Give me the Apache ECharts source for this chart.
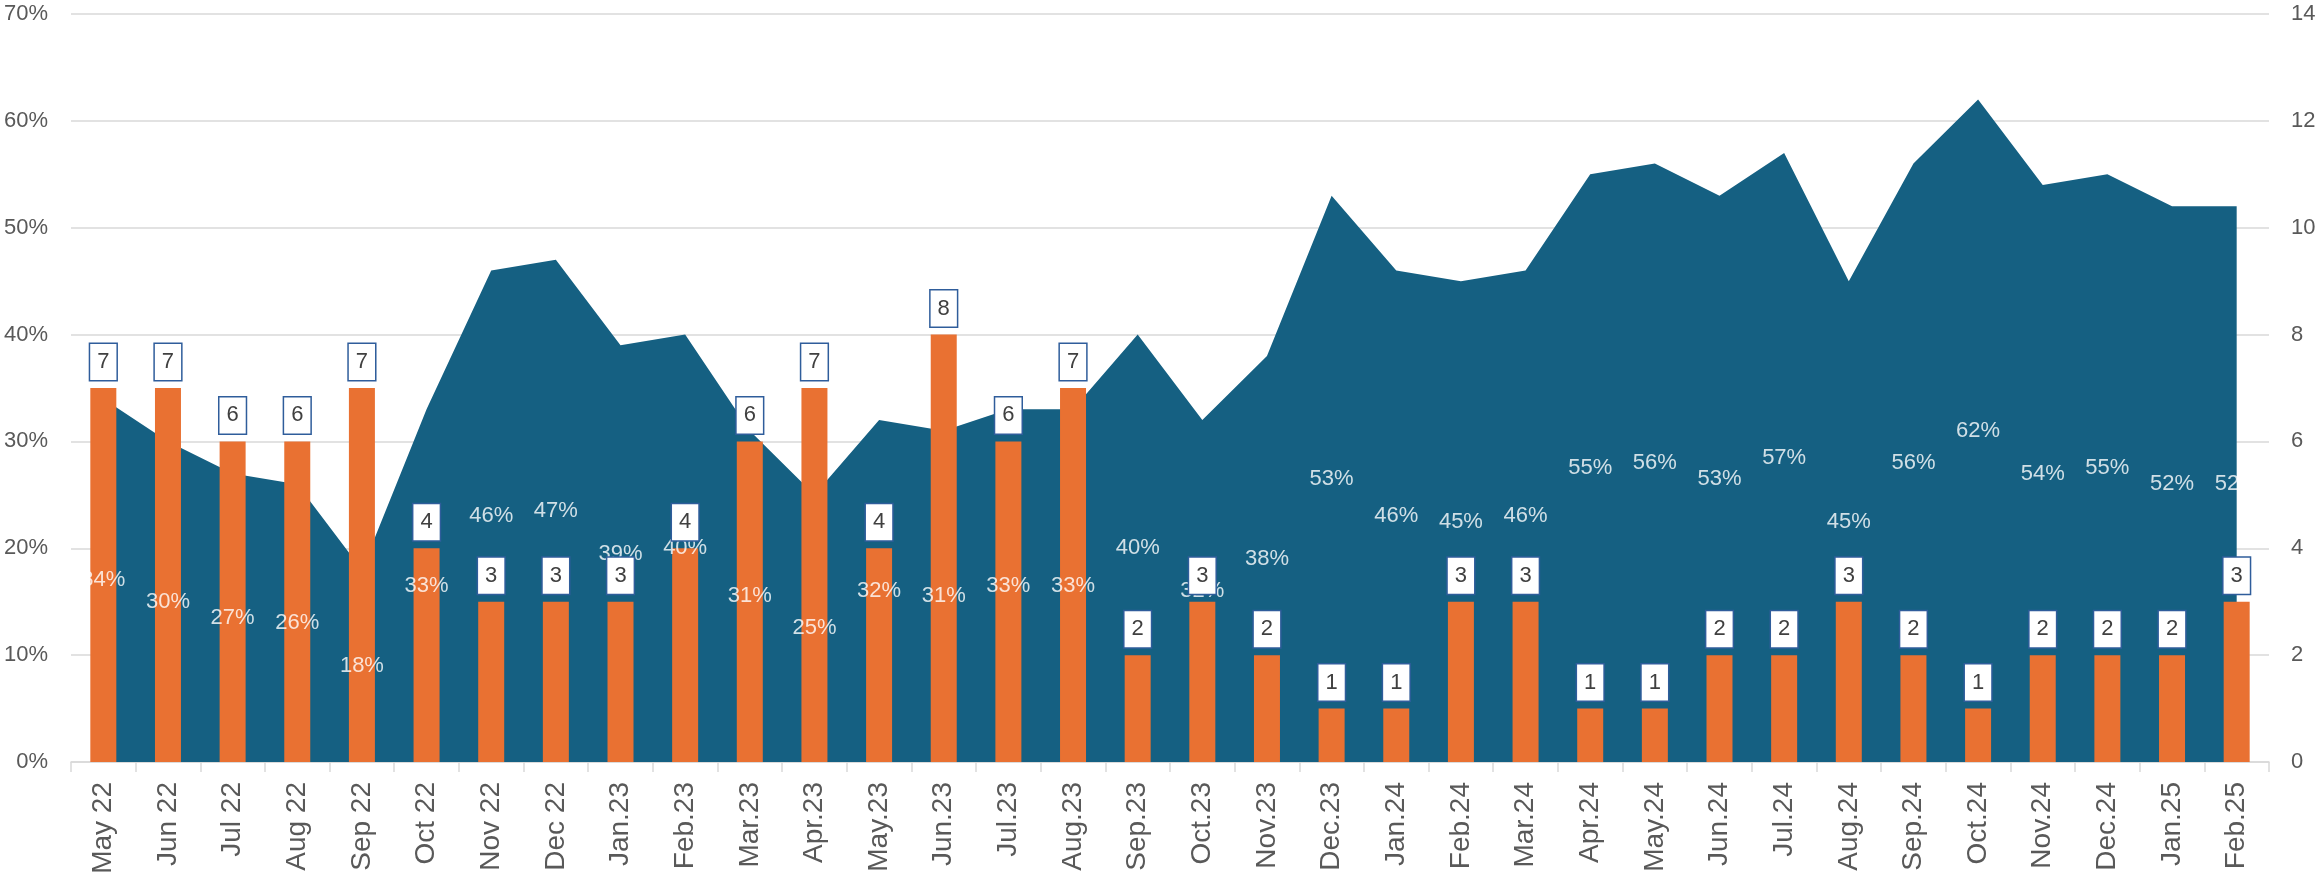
<!DOCTYPE html>
<html>
<head>
<meta charset="utf-8">
<script src="https://cdn.jsdelivr.net/npm/echarts@6/dist/echarts.min.js"></script>
<style>
  html, body { margin: 0; padding: 0; background: #fff; }
  #chart { width: 2323px; height: 882px; }
</style>
</head>
<body>
<div id="chart"></div>
<script>
const months = [
  'May 22', 'Jun 22', 'Jul 22', 'Aug 22', 'Sep 22', 'Oct 22', 'Nov 22', 'Dec 22',
  'Jan.23', 'Feb.23', 'Mar.23', 'Apr.23', 'May.23', 'Jun.23', 'Jul.23', 'Aug.23',
  'Sep.23', 'Oct.23', 'Nov.23', 'Dec.23', 'Jan.24', 'Feb.24', 'Mar.24', 'Apr.24',
  'May.24', 'Jun.24', 'Jul.24', 'Aug.24', 'Sep.24', 'Oct.24', 'Nov.24', 'Dec.24',
  'Jan.25', 'Feb.25'
];

// share in % (left axis, area)
const share = [
  34, 30, 27, 26, 18, 33, 46, 47,
  39, 40, 31, 25, 32, 31, 33, 33,
  40, 32, 38, 53, 46, 45, 46, 55,
  56, 53, 57, 45, 56, 62, 54, 55,
  52, 52
];

// counts (right axis, bars)
const counts = [
  7, 7, 6, 6, 7, 4, 3, 3,
  3, 4, 6, 7, 4, 8, 6, 7,
  2, 3, 2, 1, 1, 3, 3, 1,
  1, 2, 2, 3, 2, 1, 2, 2,
  2, 3
];

const font = '"Liberation Sans", Arial, sans-serif';
const axisText = { color: '#595959', fontSize: 22, fontFamily: font };

const chart = echarts.init(document.getElementById('chart'));
chart.setOption({
  animation: false,
  grid: { left: 71, right: 54, top: 14, bottom: 120 },
  xAxis: {
    type: 'category',
    data: months,
    boundaryGap: true,
    axisLine: { lineStyle: { color: '#d9d9d9', width: 1.5 } },
    axisTick: { show: true, length: 10, lineStyle: { color: '#d9d9d9', width: 1.5 } },
    axisLabel: { ...axisText, fontSize: 28, rotate: 90, margin: 20, interval: 0 }
  },
  yAxis: [
    {
      type: 'value',
      min: 0, max: 70, interval: 10,
      axisLabel: { ...axisText, formatter: '{value}%', margin: 23 },
      splitLine: { lineStyle: { color: '#d9d9d9', width: 1.5 } },
      axisLine: { show: false },
      axisTick: { show: false }
    },
    {
      type: 'value',
      min: 0, max: 14, interval: 2,
      position: 'right',
      axisLabel: { ...axisText, margin: 22 },
      splitLine: { show: false },
      axisLine: { show: false },
      axisTick: { show: false }
    }
  ],
  series: [
    {
      name: 'Share',
      type: 'line',
      yAxisIndex: 0,
      data: share,
      symbol: 'none',
      lineStyle: { width: 0 },
      areaStyle: { color: '#156082', opacity: 1 },
      z: 1
    },
    {
      name: 'Count',
      type: 'bar',
      yAxisIndex: 1,
      data: counts,
      barWidth: 26,
      itemStyle: { color: '#E97132' },
      z: 2
    },
    {
      name: 'ShareLabels',
      type: 'scatter',
      yAxisIndex: 0,
      data: share.map(v => v / 2),
      symbolSize: 0,
      silent: true,
      label: {
        show: true,
        position: 'inside',
        color: '#ffffff',
        fontSize: 22,
        fontFamily: font,
        formatter: p => share[p.dataIndex] + '%'
      },
      z: 3
    },
    {
      // transparent copy of the bars that carries the boxed value labels on top
      name: 'CountLabels',
      type: 'bar',
      yAxisIndex: 1,
      data: counts,
      barWidth: 26,
      barGap: '-100%',
      silent: true,
      itemStyle: { color: 'rgba(0,0,0,0)' },
      label: {
        show: true,
        position: 'top',
        distance: 8,
        color: '#404040',
        fontSize: 22,
        fontFamily: font,
        lineHeight: 22,
        backgroundColor: '#ffffff',
        borderColor: '#2F5D9B',
        borderWidth: 1.5,
        padding: [7, 7, 7, 7]
      },
      z: 4
    }
  ]
});
</script>
</body>
</html>
